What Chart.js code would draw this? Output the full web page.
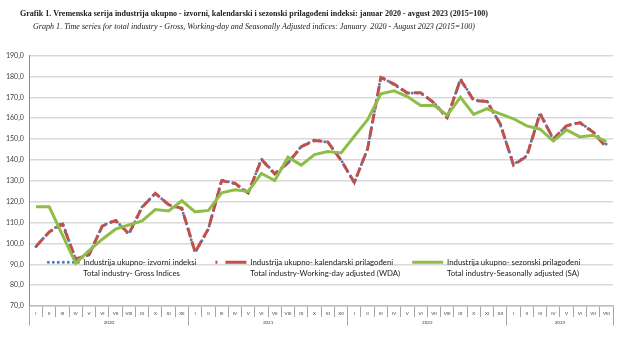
<!DOCTYPE html>
<html>
<head>
<meta charset="utf-8">
<script src="https://cdn.jsdelivr.net/npm/chart.js@4/dist/chart.umd.min.js"></script>
<style>
  html, body { margin: 0; padding: 0; background: #fff; }
</style>
</head>
<body>
<canvas id="chart" width="632" height="341"></canvas>
<script>
// chart texts
const titleText = 'Grafik 1. Vremenska serija industrija ukupno - izvorni, kalendarski i sezonski prilagođeni indeksi: januar 2020 - avgust 2023 (2015=100)';
const subtitleText = 'Graph 1. Time series for total industry - Gross, Working-day and Seasonally Adjusted indices: January  2020 - August 2023 (2015=100)';

const legendText = [
    ['Industrija ukupno- izvorni indeksi', 'Total industry- Gross Indices'],
    ['Industrija ukupno- kalendarski prilagođeni', 'Total industry-Working-day adjusted (WDA)'],
    ['Industrija ukupno- sezonski prilagođeni', 'Total industry-Seasonally adjusted (SA)']
];

// x axis: months (jan 2020 - aug 2023) and years
const monthLabels = [
    'I','II','III','IV','V','VI','VII','VIII','IX','X','XI','XII',
    'I','II','III','IV','V','VI','VII','VIII','IX','X','XI','XII',
    'I','II','III','IV','V','VI','VII','VIII','IX','X','XI','XII',
    'I','II','III','IV','V','VI','VII','VIII'
];
const years = ['2020', '2021', '2022', '2023'];
const monthsPerYear = [12, 12, 12, 8];

// series values
const gross = [
    98.5, 105.5, 110.0, 92.0, 94.5, 108.5, 111.3, 104.3, 117.5, 124.0, 118.5, 116.5,
    95.5, 107.0, 130.5, 128.5, 124.0, 140.5, 133.5, 138.5, 146.5, 149.5, 148.5, 140.0,
    129.0, 145.5, 180.0, 176.0, 172.0, 172.0, 167.5, 160.0, 178.8, 168.5, 168.3, 157.0,
    137.8, 142.0, 162.5, 149.8, 156.5, 158.0, 153.5, 147.5
];
const wda = [
    98.5, 105.5, 109.2, 92.5, 94.5, 108.3, 111.0, 104.6, 117.3, 124.0, 118.5, 116.8,
    95.8, 107.0, 130.0, 128.8, 124.2, 140.2, 133.3, 138.5, 146.3, 149.3, 148.6, 139.8,
    129.2, 145.3, 179.5, 176.3, 172.0, 172.2, 167.3, 160.2, 178.5, 168.5, 168.0, 157.2,
    137.5, 141.8, 162.2, 150.0, 156.3, 157.8, 153.3, 146.0
];
const sa = [
    117.5, 117.5, 104.0, 90.5, 96.5, 102.0, 106.8, 108.8, 110.8, 116.2, 115.5, 120.4,
    115.1, 115.8, 124.2, 125.7, 124.9, 133.5, 130.1, 141.3, 137.5, 142.5, 144.0, 143.3,
    151.3, 159.2, 171.7, 173.1, 170.3, 166.0, 166.2, 161.4, 170.0, 161.8, 164.5, 162.0,
    159.7, 156.3, 154.7, 149.0, 154.4, 151.0, 151.8, 148.7
];

// year axis ticks: separators between years and one label in the middle of each year
let yearTicks = [];
let yearAt = {};
let start = -0.5;
yearTicks.push(start);
for (let i = 0; i < years.length; i++) {
    const mid = start + monthsPerYear[i] / 2;
    yearTicks.push(mid);
    yearAt[mid] = years[i];
    start += monthsPerYear[i];
    yearTicks.push(start);
}

const axisFont = { family: 'Lato', size: 4.5 };
const lineGrey = '#a6a6a6';

// two title lines, squeezed a bit like the original
const titleLines = {
    id: 'titleLines',
    afterDraw(chart) {
        const ctx = chart.ctx;
        ctx.save();
        ctx.fillStyle = '#1a1a1a';
        ctx.textAlign = 'center';
        ctx.textBaseline = 'middle';
        ctx.font = 'bold 8.5px "Liberation Serif"';
        ctx.fillText(titleText, 254, 14, 468);
        ctx.font = 'italic 8.5px "Liberation Serif"';
        ctx.fillText(subtitleText, 254, 27, 442);
        ctx.restore();
    }
};

// legend sits inside the plot: give its box the whole chart area so it is not clipped
const legendInPlot = {
    id: 'legendInPlot',
    afterLayout(chart) {
        chart.legend.top = chart.chartArea.top;
        chart.legend.bottom = chart.chartArea.bottom;
    }
};

const ctx = document.getElementById('chart');
const myChart = new Chart(ctx, {
    type: 'line',
    data: {
        labels: monthLabels,
        datasets: [{
            label: legendText[0][0],
            data: gross,
            borderColor: '#4a7ebb',
            borderWidth: 3,
            borderDash: [0, 5.5],
            borderCapStyle: 'round',
            pointRadius: 0,
            tension: 0,
            order: 2
        }, {
            label: legendText[1][0],
            data: wda,
            borderColor: '#c0504d',
            borderWidth: 3,
            borderDash: [10, 4],
            pointRadius: 0,
            tension: 0,
            order: 1
        }, {
            label: legendText[2][0],
            data: sa,
            borderColor: '#8fbe48',
            borderWidth: 3,
            pointRadius: 0,
            tension: 0,
            order: 0
        }]
    },
    options: {
        responsive: false,
        animation: false,
        layout: {
            padding: { top: 55.5, right: 19, bottom: 15.3, left: 0.5 }
        },
        plugins: {
            title: { display: false },
            tooltip: { enabled: false },
            legend: {
                position: 'chartArea',
                align: 'start',
                // blank legend title only pushes the items down inside the plot
                title: { display: true, text: ' ', font: { size: 1 }, padding: { top: 182.6, bottom: 0 } },
                labels: {
                    usePointStyle: true,
                    pointStyle: 'line',
                    pointStyleWidth: 31,
                    boxHeight: 8,
                    padding: 19,
                    color: '#1a1a1a',
                    font: { family: 'Lato', size: 7.8, lineHeight: 1.4 },
                    sort: (a, b) => a.datasetIndex - b.datasetIndex,
                    generateLabels(chart) {
                        const items = Chart.defaults.plugins.legend.labels.generateLabels(chart);
                        items.forEach(item => {
                            item.text = legendText[item.datasetIndex];
                            item.pointStyle = 'line';
                            item.lineWidth = 3;
                            if (item.datasetIndex === 0) {
                                item.lineDash = [0, 5];
                                item.lineCap = 'round';
                            }
                            if (item.datasetIndex === 1) {
                                item.lineDash = [21, 8];
                                item.lineDashOffset = 19;
                            }
                        });
                        return items;
                    }
                }
            }
        },
        scales: {
            x: {
                type: 'category',
                offset: true,
                grid: { offset: true, drawOnChartArea: false, tickLength: 11, color: lineGrey, lineWidth: 1 },
                border: { display: true, color: '#bfbfbf', width: 1.5 },
                ticks: {
                    autoSkip: false, maxRotation: 0, minRotation: 0, padding: -5.7,
                    font: axisFont, color: '#404040',
                    // blank second line keeps the label inside the axis box
                    callback: (v, i) => [monthLabels[i], '']
                }
            },
            xYear: {
                type: 'linear',
                position: 'bottom',
                min: -0.5,
                max: 43.5,
                afterBuildTicks: axis => { axis.ticks = yearTicks.map(v => ({ value: v })); },
                grid: {
                    drawOnChartArea: false,
                    tickLength: 9.3,
                    color: c => (c.tick && yearAt[c.tick.value]) ? 'rgba(0,0,0,0)' : lineGrey,
                    lineWidth: 1
                },
                border: { display: false },
                ticks: {
                    autoSkip: false, maxRotation: 0, minRotation: 0, padding: -5.4,
                    font: axisFont, color: '#404040',
                    callback: v => [yearAt[v] || '', '']
                }
            },
            y: {
                min: 70,
                max: 190,
                ticks: {
                    stepSize: 10,
                    padding: 5.5,
                    color: '#404040',
                    font: { family: 'Lato', size: 7 },
                    callback: v => v.toFixed(1).replace('.', ',')
                },
                grid: { color: '#d9d9d9', lineWidth: 1.5, drawTicks: false },
                border: { display: true, color: '#8c8c8c', width: 1 }
            }
        }
    },
    plugins: [titleLines, legendInPlot]
});
</script>
</body>
</html>
